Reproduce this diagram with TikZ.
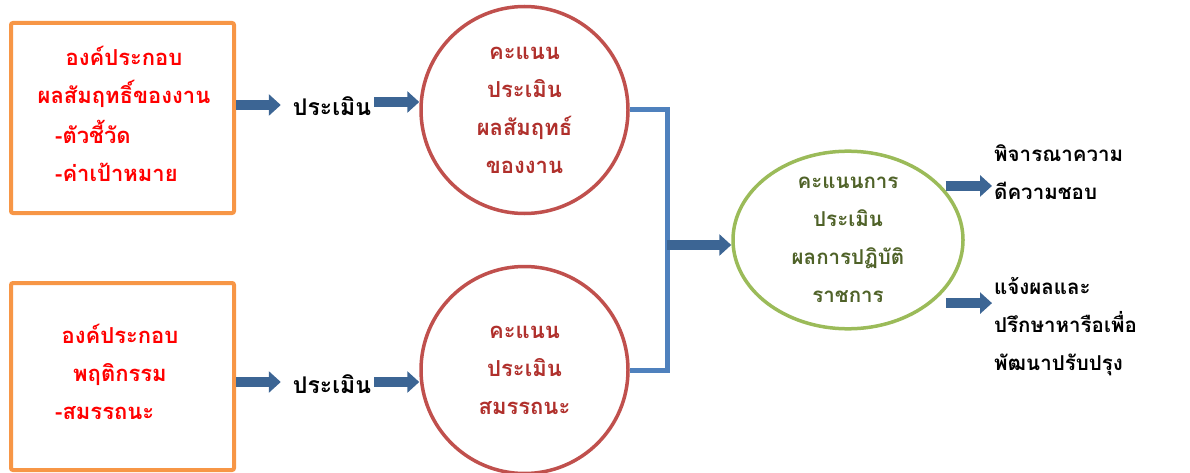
\documentclass[tikz,border=0pt]{standalone}
\usepackage{fontspec}
\newfontfamily\thaifont[Script=Thai]{Loma}
\usetikzlibrary{arrows.meta,shapes.geometric,calc}
\definecolor{orng}{HTML}{F79646}
\definecolor{brd}{HTML}{C0504D}
\definecolor{redtxt}{HTML}{FF0000}
\definecolor{darkred}{HTML}{B0302C}
\definecolor{blk}{HTML}{3C6594}
\definecolor{brk}{HTML}{4F81BD}
\definecolor{grn}{HTML}{9BBB59}
\definecolor{dgrn}{HTML}{4F6228}
\tikzset{
  txt/.style={font=\thaifont\bfseries\fontsize{22}{38}\selectfont, inner sep=0pt},
  txts/.style={font=\thaifont\bfseries\fontsize{20.5}{38}\selectfont, inner sep=0pt},
  txtl/.style={font=\thaifont\bfseries\fontsize{23}{38}\selectfont, inner sep=0pt},
  outbox/.style={draw=orng, line width=4pt, fill=white, rounded corners=2pt, minimum width=223pt, minimum height=190pt, inner sep=0pt},
  redc/.style={circle, draw=brd, line width=3.5pt, fill=white, minimum size=207pt, inner sep=0pt, align=center, text=darkred, txt},
  blockarrow/.style={draw=blk, line width=10pt, -{Triangle[length=12pt,width=21pt]}},
  bracketline/.style={draw=brk, line width=5pt, line join=miter},
}
\begin{document}
\begin{tikzpicture}[x=1pt,y=-1pt]
\useasboundingbox (0,0) rectangle (1190,473);
% boxes
\node[outbox] (b1) at (122.5,118) {};
\node[outbox, minimum height=187pt] (b2) at (122.5,376.5) {};
\node[txt, text=redtxt, align=center] (b1h) at (124,77) {องค์ประกอบ\\ผลสัมฤทธิ์ของงาน};
\node[txt, text=redtxt, align=left, anchor=west] (b1l) at (55,151) {-ตัวชี้วัด\\-ค่าเป้าหมาย};
\node[txt, text=redtxt, align=center] (b2h) at (120,355) {องค์ประกอบ\\พฤติกรรม};
\node[txt, text=redtxt, anchor=west] (b2l) at (55,413) {-สมรรถนะ};
% evaluate labels
\node[txtl] (ev1) at (332,106) {ประเมิน};
\node[txtl] (ev2) at (332,384) {ประเมิน};
% circles
\node[redc] (c1) at (524.5,110) {คะแนน\\ประเมิน\\ผลสัมฤทธ์\\ของงาน};
\node[redc] (c2) at (524.5,370) {คะแนน\\ประเมิน\\สมรรถนะ};
% ellipse
\node[ellipse, draw=grn, line width=3.5pt, fill=white, minimum width=230pt, minimum height=175pt, inner sep=0pt, align=center, text=dgrn, txts] (el) at (848,240) {คะแนนการ\\ประเมิน\\ผลการปฏิบัติ\\ราชการ};
% right texts
\node[txts, align=left, anchor=west] (t1) at (994,172) {พิจารณาความ\\ดีความชอบ};
\node[txts, align=left, anchor=west] (t2) at (994,327) {แจ้งผลและ\\ปรึกษาหารือเพื่อ\\พัฒนาปรับปรุง};
% arrow anchors
\coordinate (a1) at ([yshift=13pt]b1.east);
\coordinate (a2) at ([yshift=-5.5pt]b2.east);
\coordinate (a3) at ([xshift=3pt,yshift=4pt]ev1.east);
\coordinate (a4) at ([xshift=3pt,yshift=2pt]ev2.east);
\coordinate (j) at (667,245);
\coordinate (r1) at ([xshift=4pt]el.30);
\coordinate (r2) at ([xshift=14pt]el.-37);
% arrows
\draw[blockarrow] (a1) -- ($(a1 -| ev1.west)+(-12,0)$);
\draw[blockarrow] (a2) -- ($(a2 -| ev2.west)+(-12,0)$);
\draw[blockarrow] (a3) -- (a3 -| c1.west);
\draw[blockarrow] (a4) -- (a4 -| c2.west);
% bracket
\draw[bracketline] (c1.east) -| (j) |- (c2.east);
\draw[blockarrow] (j) -- (j -| el.west);
\draw[blockarrow] (r1) -- ($(r1 -| t1.west)+(-2,0)$);
\draw[blockarrow] (r2) -- ($(r2 -| t2.west)+(-2,0)$);
\end{tikzpicture}
\end{document}
